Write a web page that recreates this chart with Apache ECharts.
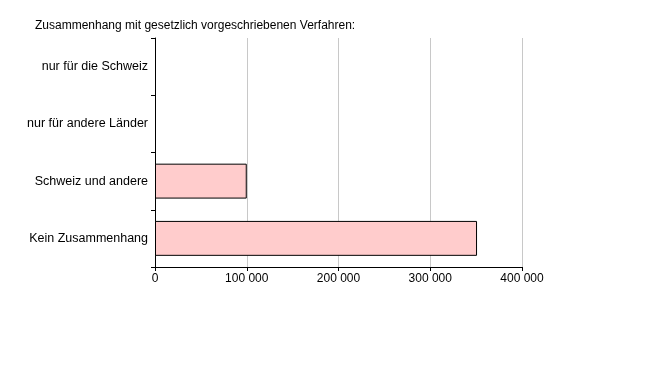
<!DOCTYPE html>
<html>
<head>
<meta charset="utf-8">
<script src="https://cdn.jsdelivr.net/npm/echarts@6/dist/echarts.min.js"></script>
<style>
  html, body { margin: 0; padding: 0; background: #fff; }
  #chart { width: 660px; height: 378px; }
</style>
</head>
<body>
<div id="chart"></div>
<script>
// categories, top to bottom
const categories = ['nur für die Schweiz', 'nur für andere Länder', 'Schweiz und andere', 'Kein Zusammenhang'];
const values = [0, 0, 100000, 351000];
const xTicks = { min: 0, max: 400000, interval: 100000 };

const chart = echarts.init(document.getElementById('chart'));
const font = 'Liberation Sans, Arial, sans-serif';

chart.setOption({
    backgroundColor: '#fff',
    animation: false,
    title: {
        text: 'Zusammenhang mit gesetzlich vorgeschriebenen Verfahren:',
        left: 30,
        top: 15,
        textStyle: { fontFamily: font, fontSize: 12, fontWeight: 'normal', color: '#000' }
    },
    grid: { left: 155, right: 138, top: 38, bottom: 111, containLabel: false },
    xAxis: {
        type: 'value',
        min: xTicks.min,
        max: xTicks.max,
        interval: xTicks.interval,
        axisLine: { show: true, lineStyle: { color: '#000', width: 1 } },
        axisTick: { show: true, length: 4, lineStyle: { color: '#000' } },
        axisLabel: {
            color: '#000', fontFamily: font, fontSize: 12, margin: 6,
            formatter: v => String(v).replace(/\B(?=(\d{3})+(?!\d))/g, ' ')
        },
        splitLine: { show: true, lineStyle: { color: '#c8c8c8', width: 1 } }
    },
    yAxis: {
        type: 'category',
        inverse: true,
        data: categories,
        axisLine: { show: true, lineStyle: { color: '#000', width: 1 } },
        axisTick: { show: true, length: 4, lineStyle: { color: '#000' } },
        axisLabel: { color: '#000', fontFamily: font, fontSize: 12.5, margin: 7 },
        splitLine: { show: false }
    },
    series: [{
        type: 'bar',
        // zero values draw no bar, as in the picture
        data: values.map(v => (v === 0 ? '-' : v)),
        barCategoryGap: '39%',
        itemStyle: { color: '#ffcccc', borderColor: '#000', borderWidth: 1 }
    }]
});
</script>
</body>
</html>
